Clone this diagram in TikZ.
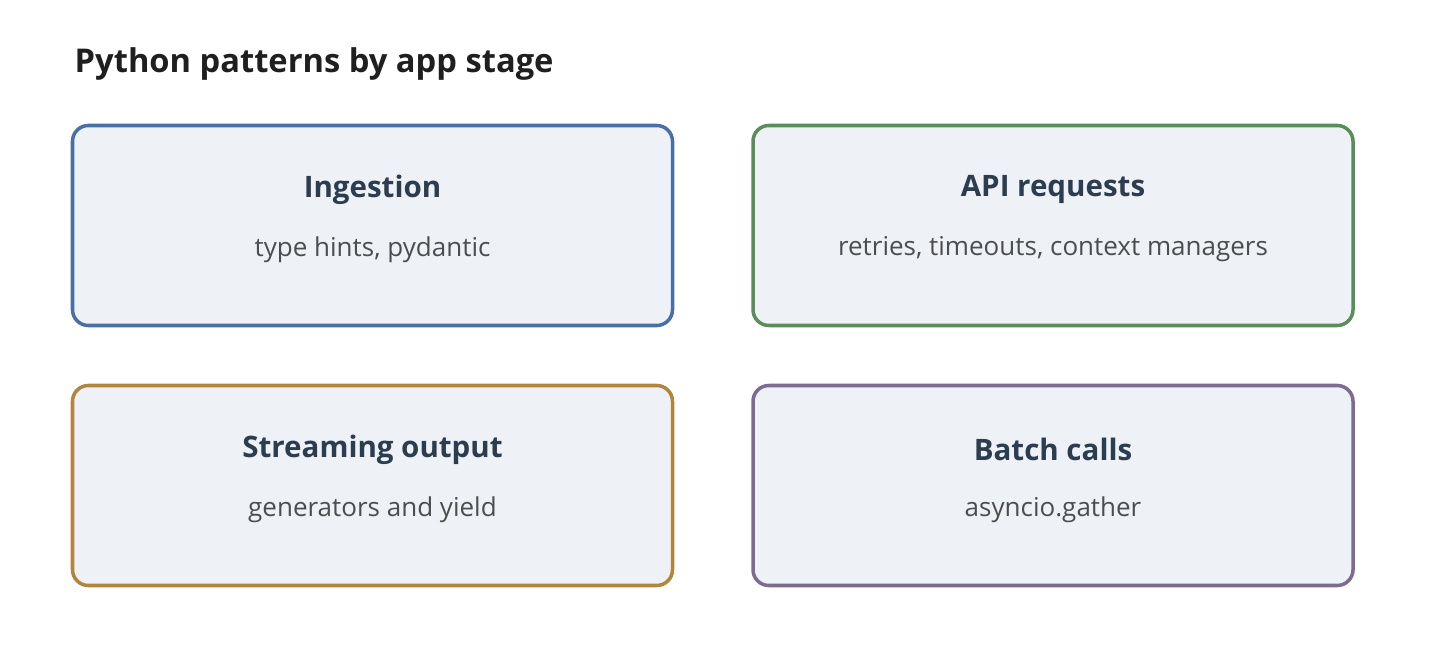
\documentclass[tikz,border=0pt]{standalone}
\usepackage{fontspec}
\setmainfont{Open Sans}
\usepackage{xcolor}
\usetikzlibrary{calc}
\definecolor{boxbg}{HTML}{EEF2F7}
\definecolor{headtext}{HTML}{2B3D4F}
\definecolor{subtext}{HTML}{4D4D4D}
\definecolor{blueline}{HTML}{4A6FA5}
\definecolor{greenline}{HTML}{5B8C5A}
\definecolor{goldline}{HTML}{B0863F}
\definecolor{purpleline}{HTML}{7D6B91}
\tikzset{
  stage/.style={draw=#1, fill=boxbg, line width=1pt, rounded corners=4.5pt,
    minimum width=6.0cm, minimum height=2.0cm, inner sep=0pt},
  head/.style={text=headtext, font=\fontsize{8.4}{10}\selectfont\bfseries},
  sub/.style={text=subtext, font=\fontsize{7.4}{9}\selectfont},
  ttl/.style={text=black!88, font=\fontsize{9.3}{12}\selectfont\bfseries, anchor=base west, inner sep=0pt},
}
\begin{document}
\begin{tikzpicture}
  \useasboundingbox (0,0) rectangle (14.38,-6.5);
  \node[ttl] (title) at (0.74,-0.73) {Python patterns by app stage};

  \node[stage=blueline] (ingest) at (3.725,-2.255) {};
  \node[stage=greenline] (api) at (10.53,-2.255) {};
  \node[stage=goldline] (stream) at (3.725,-4.855) {};
  \node[stage=purpleline] (batch) at (10.53,-4.855) {};

  \node[head] (ingesthead) at ($(ingest.center)+(0,0.36)$) {Ingestion};
  \node[sub] (ingestsub) at ($(ingest.center)+(0,-0.24)$) {type hints, pydantic};
  \node[head] (apihead) at ($(api.center)+(0,0.36)$) {API requests};
  \node[sub] (apisub) at ($(api.center)+(0,-0.24)$) {retries, timeouts, context managers};
  \node[head] (streamhead) at ($(stream.center)+(0,0.36)$) {Streaming output};
  \node[sub] (streamsub) at ($(stream.center)+(0,-0.24)$) {generators and yield};
  \node[head] (batchhead) at ($(batch.center)+(0,0.36)$) {Batch calls};
  \node[sub] (batchsub) at ($(batch.center)+(0,-0.24)$) {asyncio.gather};
\end{tikzpicture}
\end{document}
